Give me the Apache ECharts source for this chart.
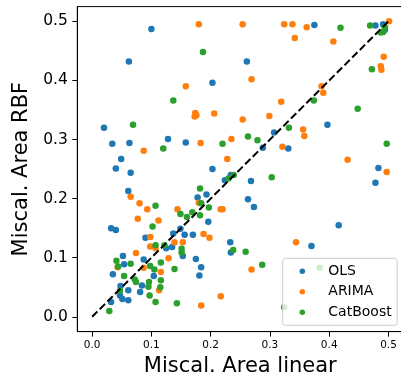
<!DOCTYPE html>
<html>
<head>
<meta charset="utf-8">
<script src="https://cdn.jsdelivr.net/npm/echarts@6/dist/echarts.min.js"></script>
<style>html,body{margin:0;padding:0;background:#fff}#c{width:401px;height:377px}</style>
</head>
<body>
<div id="c"></div>
<script>
const seriesNames = ['OLS', 'ARIMA', 'CatBoost'];
const tickValues = [0.0, 0.1, 0.2, 0.3, 0.4, 0.5];
const xTitle = 'Miscal. Area linear';
const yTitle = 'Miscal. Area RBF';
const diagonal = [[0, 0], [0.5, 0.5]];

const olsPoints = [[0.100,0.487],[0.062,0.432],[0.020,0.320],[0.034,0.293],[0.063,0.294],[0.049,0.267],[0.040,0.251],[0.065,0.244],[0.061,0.213],[0.128,0.301],[0.158,0.295],[0.203,0.396],[0.261,0.432],[0.375,0.494],[0.478,0.493],[0.491,0.495],[0.494,0.486],[0.397,0.325],[0.307,0.312],[0.331,0.285],[0.288,0.286],[0.203,0.250],[0.224,0.231],[0.234,0.240],[0.268,0.230],[0.263,0.199],[0.273,0.186],[0.483,0.252],[0.478,0.227],[0.416,0.155],[0.370,0.120],[0.178,0.202],[0.193,0.207],[0.196,0.161],[0.233,0.126],[0.234,0.109],[0.170,0.139],[0.175,0.098],[0.184,0.084],[0.181,0.070],[0.153,0.103],[0.156,0.139],[0.149,0.149],[0.137,0.141],[0.135,0.118],[0.125,0.116],[0.090,0.134],[0.087,0.097],[0.104,0.069],[0.081,0.042],[0.084,0.053],[0.032,0.150],[0.040,0.147],[0.052,0.103],[0.054,0.089],[0.035,0.072],[0.048,0.052],[0.061,0.045],[0.047,0.036],[0.051,0.030],[0.061,0.028],[0.032,0.025]];

const arimaPoints = [[0.180,0.495],[0.254,0.495],[0.324,0.495],[0.338,0.495],[0.362,0.490],[0.342,0.472],[0.407,0.466],[0.501,0.500],[0.492,0.440],[0.487,0.424],[0.488,0.418],[0.269,0.402],[0.158,0.390],[0.387,0.390],[0.390,0.379],[0.319,0.364],[0.174,0.345],[0.176,0.341],[0.173,0.339],[0.206,0.344],[0.254,0.334],[0.299,0.340],[0.356,0.317],[0.358,0.306],[0.087,0.281],[0.183,0.294],[0.235,0.301],[0.228,0.267],[0.321,0.288],[0.431,0.266],[0.497,0.245],[0.065,0.203],[0.080,0.192],[0.093,0.182],[0.077,0.166],[0.112,0.163],[0.180,0.193],[0.217,0.182],[0.220,0.182],[0.144,0.182],[0.098,0.135],[0.098,0.119],[0.107,0.116],[0.139,0.126],[0.153,0.126],[0.188,0.140],[0.198,0.134],[0.074,0.108],[0.129,0.099],[0.043,0.084],[0.087,0.083],[0.116,0.076],[0.113,0.045],[0.344,0.126],[0.269,0.080],[0.217,0.035],[0.184,0.019]];

const catboostPoints = [[0.187,0.448],[0.419,0.489],[0.469,0.493],[0.487,0.481],[0.491,0.482],[0.494,0.490],[0.472,0.419],[0.374,0.366],[0.448,0.352],[0.332,0.320],[0.497,0.293],[0.137,0.366],[0.069,0.325],[0.120,0.285],[0.220,0.293],[0.263,0.305],[0.279,0.299],[0.303,0.236],[0.230,0.234],[0.239,0.240],[0.182,0.217],[0.184,0.192],[0.197,0.185],[0.182,0.172],[0.169,0.177],[0.149,0.174],[0.160,0.169],[0.107,0.188],[0.102,0.153],[0.107,0.121],[0.122,0.121],[0.238,0.113],[0.259,0.110],[0.287,0.088],[0.384,0.083],[0.324,0.016],[0.151,0.109],[0.151,0.115],[0.139,0.081],[0.143,0.023],[0.116,0.092],[0.116,0.062],[0.115,0.050],[0.107,0.025],[0.096,0.059],[0.095,0.051],[0.097,0.036],[0.098,0.086],[0.105,0.080],[0.065,0.090],[0.041,0.095],[0.044,0.085],[0.054,0.069],[0.072,0.063],[0.074,0.059],[0.047,0.044],[0.029,0.010]];

const colors = ['#1f77b4', '#ff7f0e', '#2ca02c'];
const font = 'DejaVu Sans';
const chart = echarts.init(document.getElementById('c'), null, {renderer: 'canvas'});
const fmt = v => v.toFixed(1);
const scatter = (name, data, color) => ({
  name, type: 'scatter', data, symbol: 'circle', symbolSize: 6.5,
  itemStyle: {color, opacity: 1}, z: 2, animation: false
});
chart.setOption({
  animation: false,
  grid: {left: 77.3, top: 6.6, width: 326, height: 325, outerBoundsMode: 'none', containLabel: false,
         show: true, borderColor: '#000', borderWidth: 1, backgroundColor: 'transparent'},
  xAxis: {
    type: 'value', min: -0.025, max: 0.525,
    name: xTitle, nameLocation: 'middle', nameGap: 9,
    nameTextStyle: {fontFamily: font, fontSize: 21, color: '#000', verticalAlign: 'top'},
    axisLine: {show: true, onZero: false, lineStyle: {color: '#000', width: 1}},
    axisTick: {show: true, length: 5, lineStyle: {color: '#000'}, customValues: tickValues},
    axisLabel: {fontFamily: font, fontSize: 10.5, color: '#000', margin: 8.5, formatter: fmt, customValues: tickValues},
    splitLine: {show: false}
  },
  yAxis: {
    type: 'value', min: -0.025, max: 0.525,
    name: yTitle, nameLocation: 'middle', nameGap: 36, nameRotate: 90,
    nameTextStyle: {fontFamily: font, fontSize: 21, color: '#000'},
    axisLine: {show: true, onZero: false, lineStyle: {color: '#000', width: 1}},
    axisTick: {show: true, length: 5, lineStyle: {color: '#000'}, customValues: tickValues},
    axisLabel: {fontFamily: font, fontSize: 15.5, color: '#000', margin: 9.5, formatter: fmt, customValues: tickValues},
    splitLine: {show: false}
  },
  legend: {
    data: seriesNames, orient: 'vertical', left: 282.7, top: 258.3,
    padding: [6, 5.5, 6, 16.85], itemGap: 6.5, itemWidth: 38, itemHeight: 5.5,
    icon: 'circle', symbolKeepAspect: true,
    backgroundColor: 'rgba(255,255,255,0.8)', borderColor: '#cccccc', borderWidth: 1, borderRadius: 3,
    textStyle: {fontFamily: font, fontSize: 14, color: '#000', padding: [0, 0, 0, 2]},
    z: 10
  },
  series: [
    scatter(seriesNames[0], olsPoints, colors[0]),
    scatter(seriesNames[1], arimaPoints, colors[1]),
    scatter(seriesNames[2], catboostPoints, colors[2]),
    {
      name: 'diag', type: 'line', data: diagonal, symbol: 'none', z: 3,
      lineStyle: {color: '#000', width: 2, type: [7.5, 3.3]}, silent: true
    }
  ]
});
</script>
</body>
</html>
